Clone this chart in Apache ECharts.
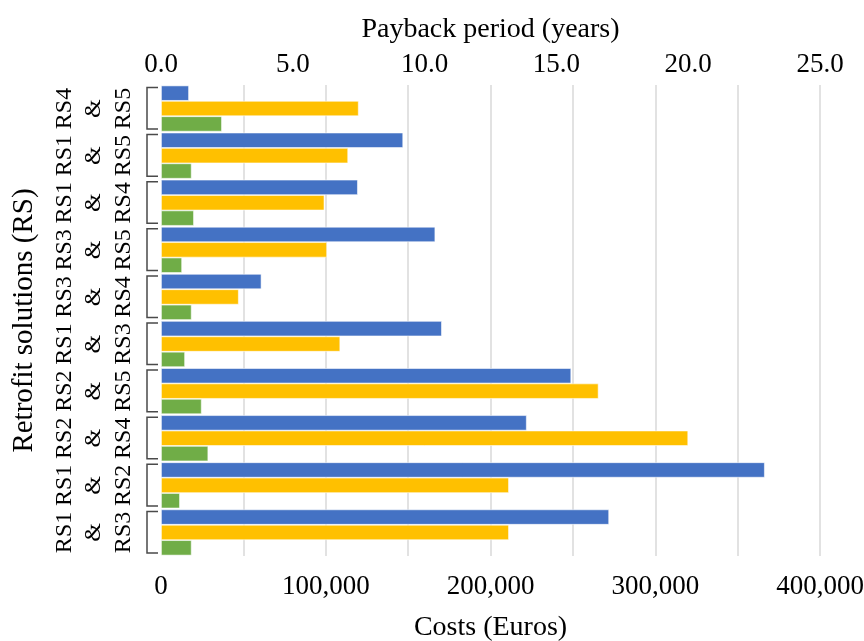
<!DOCTYPE html>
<html>
<head>
<meta charset="utf-8">
<script src="https://cdn.jsdelivr.net/npm/echarts@6/dist/echarts.min.js"></script>
<style>html,body{margin:0;padding:0;background:#fff;}#chart{width:864px;height:641px;}</style>
</head>
<body>
<div id="chart"></div>
<script>
// Categories, top to bottom
const categories = ['RS4 & RS5','RS1 & RS5','RS1 & RS4','RS3 & RS5','RS3 & RS4','RS1 & RS3','RS2 & RS5','RS2 & RS4','RS1 & RS2','RS1 & RS3'];
// Blue series (Euros, bottom axis)
const blueCosts = [17000, 147000, 119500, 166500, 61000, 170500, 249000, 222000, 366500, 272000];
// Yellow series (payback period, years, top axis)
const yellowPayback = [7.5, 7.1, 6.2, 6.3, 2.95, 6.8, 16.6, 20.0, 13.2, 13.2];
// Green series (Euros, bottom axis)
const greenCosts = [37000, 18600, 20000, 12800, 18600, 14600, 24700, 28700, 11500, 18600];
// Tick settings
const costTicks = {min: 0, max: 400000, interval: 50000, labelStep: 100000};
const yearTicks = {min: 0, max: 25, interval: 5};

const FONT = "'Liberation Serif', 'Times New Roman', serif";
const chart = echarts.init(document.getElementById('chart'), null, {renderer: 'canvas'});

const barStyle = (c) => ({color: c, borderColor: 'rgba(255,255,255,0.7)', borderWidth: 0.8});

chart.setOption({
  animation: false,
  backgroundColor: '#fff',
  textStyle: {fontFamily: FONT, color: '#000'},
  grid: {left: 161, right: 44, top: 85, bottom: 85, containLabel: false, outerBoundsMode: 'none'},
  xAxis: [
    {
      type: 'value', position: 'bottom',
      min: costTicks.min, max: costTicks.max, interval: costTicks.interval,
      axisLine: {show: false}, axisTick: {show: false},
      axisLabel: {
        margin: 17, fontSize: 27, fontFamily: FONT, color: '#000', hideOverlap: false,
        formatter: v => (v % costTicks.labelStep === 0 ? v.toLocaleString('en-US') : '')
      },
      splitLine: {show: true, showMinLine: false, lineStyle: {color: '#d9d9d9', width: 1.5}},
      name: 'Costs (Euros)', nameLocation: 'middle', nameGap: 58,
      nameTextStyle: {fontSize: 28, fontFamily: FONT, color: '#000'}
    },
    {
      type: 'value', position: 'top',
      min: yearTicks.min, max: yearTicks.max, interval: yearTicks.interval,
      axisLine: {show: false}, axisTick: {show: false},
      axisLabel: {margin: 7, fontSize: 27, fontFamily: FONT, color: '#000', formatter: v => v.toFixed(1)},
      splitLine: {show: false},
      name: 'Payback period (years)', nameLocation: 'middle', nameGap: 41,
      nameTextStyle: {fontSize: 28, fontFamily: FONT, color: '#000'}
    }
  ],
  yAxis: {
    type: 'category', inverse: true, data: categories,
    axisLine: {show: false}, axisTick: {show: false},
    axisLabel: {
      interval: 0, rotate: 90, margin: 23, fontSize: 24, lineHeight: 29.5, fontFamily: FONT, color: '#000',
      hideOverlap: false,
      formatter: v => v.replace(' & ', '\n&\n')
    },
    name: 'Retrofit solutions (RS)', nameLocation: 'middle', nameGap: 122,
    nameTextStyle: {fontSize: 29, fontFamily: FONT, color: '#000'}
  },
  series: [
    {type: 'bar', name: 'Blue', xAxisIndex: 0, data: blueCosts, itemStyle: barStyle('#4472C4'),
     barGap: '0%', barCategoryGap: '2%'},
    {type: 'bar', name: 'Yellow', xAxisIndex: 1, data: yellowPayback, itemStyle: barStyle('#FFC000'),
     barGap: '0%', barCategoryGap: '2%'},
    {type: 'bar', name: 'Green', xAxisIndex: 0, data: greenCosts, itemStyle: barStyle('#70AD47'),
     barGap: '0%', barCategoryGap: '2%'},
    {
      type: 'custom', name: 'brackets', xAxisIndex: 0, clip: false, silent: true,
      data: categories.map((c, i) => [0, i]),
      encode: {x: 0, y: 1},
      renderItem: (params, api) => {
        const p = api.coord([0, api.value(1)]);
        const band = api.size([0, 1])[1];
        const top = p[1] - band / 2 + 2.5, bot = p[1] + band / 2 - 3;
        const xl = p[0] - 14, xr = p[0] - 3;
        return {
          type: 'polyline',
          shape: {points: [[xr, top], [xl, top], [xl, bot], [xr, bot]]},
          style: {stroke: '#4a4a4a', lineWidth: 1.5, fill: null}
        };
      }
    }
  ]
});
</script>
</body>
</html>
